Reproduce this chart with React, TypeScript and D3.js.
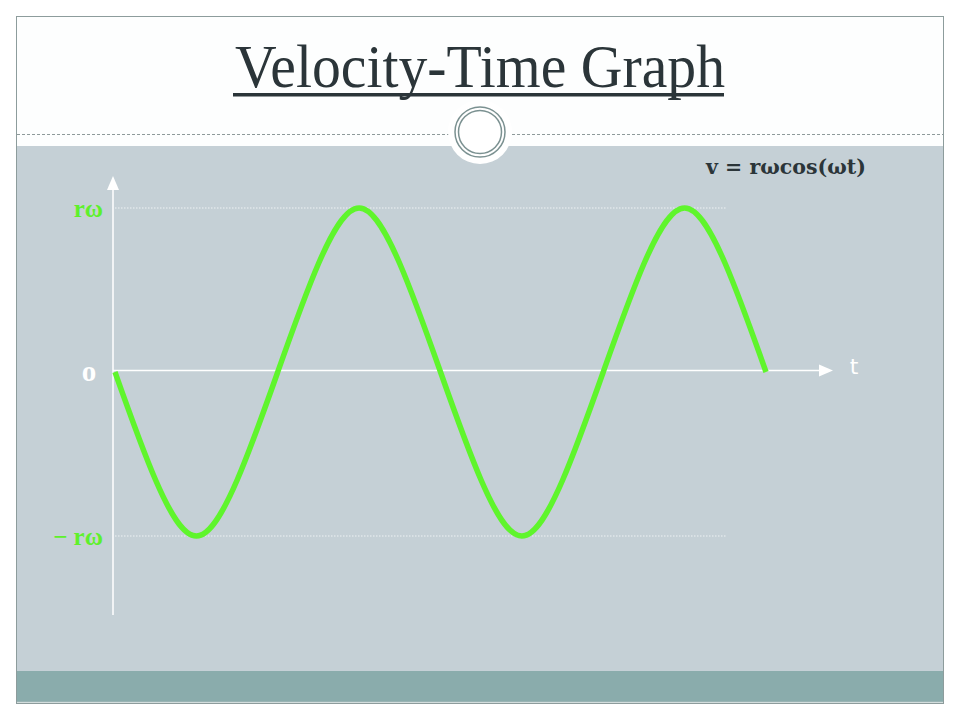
import React from "react";
import * as d3 from "d3";

// Data (t in quarter-period units, v in units of rω)
const tValues = [0, 0.5, 1, 1.5, 2, 2.5, 3, 3.5, 4, 4.5, 5, 5.5, 6, 6.5, 7, 7.5, 8];
const vValues = [0, -0.66, -1, -0.66, 0, 0.66, 1, 0.66, 0, -0.66, -1, -0.66, 0, 0.66, 1, 0.66, 0];
const yTickValues = [1, -1];
const yTickLabels = ["rω", "− rω"];
const titleText = "Velocity-Time Graph";
const equationText = "v = rωcos(ωt)";

const W = 960;
const H = 720;

export default function App() {
  const x = d3.scaleLinear().domain([0, 8]).range([115, 766]);
  const y = d3.scaleLinear().domain([-1, 1]).range([536, 208]);
  const points = tValues.map((t, i) => [t, vValues[i]] as [number, number]);
  const line = d3
    .line<[number, number]>()
    .x((d) => x(d[0]))
    .y((d) => y(d[1]))
    .curve(d3.curveNatural);

  const axisX = 113;
  const axisY = y(0) - 1.5;

  return (
    <svg
      width={W}
      height={H}
      style={{ position: "absolute", left: 0, top: 0, background: "#ffffff" }}
    >
      {/* slide frame */}
      <rect x={16.5} y={16.5} width={927} height={687} fill="#fdfefe" stroke="#8d9c9c" strokeWidth={1} />
      <rect x={17} y={146} width={926} height={525} fill="#c5d0d6" />
      <rect x={17} y={671} width={926} height={31} fill="#8aacac" />
      <line x1={17} x2={943} y1={702} y2={702} stroke="#a9bcbc" strokeWidth={1} />

      {/* dashed separator */}
      <line x1={17} x2={943} y1={134.5} y2={134.5} stroke="#8e9a9a" strokeWidth={1} strokeDasharray="3,2" />

      {/* ornament circle */}
      <circle cx={480} cy={132} r={32} fill="#ffffff" />
      <circle cx={480} cy={132} r={25} fill="none" stroke="#7b9191" strokeWidth={1.5} />
      <circle cx={480} cy={132} r={21.5} fill="none" stroke="#7b9191" strokeWidth={1.5} />

      {/* title */}
      <text
        x={480}
        y={87}
        textAnchor="middle"
        fontFamily="'Liberation Serif', 'DejaVu Serif', serif"
        fontSize={62}
        fill="#2b3539"
        textLength={490}
        lengthAdjust="spacingAndGlyphs"
      >
        {titleText}
      </text>
      <rect x={233} y={93} width={491} height={3.5} fill="#2b3539" />

      {/* guide lines */}
      {yTickValues.map((v) => (
        <line
          key={v}
          x1={axisX + 2}
          x2={727}
          y1={y(v)}
          y2={y(v)}
          stroke="#eef2f4"
          strokeWidth={1}
          strokeDasharray="1.5,1.5"
        />
      ))}

      {/* axes */}
      <line x1={axisX} x2={axisX} y1={188} y2={615} stroke="#ffffff" strokeWidth={1.5} />
      <path d={`M${axisX},176 L${axisX - 6},190 L${axisX + 6},190 Z`} fill="#ffffff" />
      <line x1={axisX} x2={822} y1={axisY} y2={axisY} stroke="#ffffff" strokeWidth={1.5} />
      <path d={`M833,${axisY} L819,${axisY - 6} L819,${axisY + 6} Z`} fill="#ffffff" />

      {/* curve */}
      <path
        d={line(points) || ""}
        fill="none"
        stroke="#5ff52c"
        strokeWidth={5.5}
        strokeLinecap="butt"
        strokeLinejoin="round"
      />

      {/* labels */}
      {yTickValues.map((v, i) => (
        <text
          key={v}
          x={103}
          y={y(v) + 9}
          textAnchor="end"
          fontFamily="'Liberation Serif', 'DejaVu Serif', serif"
          fontWeight="bold"
          fontSize={25}
          fill="#5ef02c"
        >
          {yTickLabels[i]}
        </text>
      ))}
      <text
        x={89}
        y={381}
        textAnchor="middle"
        fontFamily="'Liberation Serif', serif"
        fontWeight="bold"
        fontSize={29}
        fill="#ffffff"
      >
        o
      </text>
      <text
        x={854}
        y={374}
        textAnchor="middle"
        fontFamily="'DejaVu Sans', sans-serif"
        fontSize={22}
        fill="#ffffff"
      >
        t
      </text>
      <text
        x={786}
        y={174}
        textAnchor="middle"
        fontFamily="'DejaVu Serif', serif"
        fontWeight="bold"
        fontSize={20}
        fill="#2b3539"
        textLength={160}
        lengthAdjust="spacingAndGlyphs"
      >
        {equationText}
      </text>
    </svg>
  );
}
